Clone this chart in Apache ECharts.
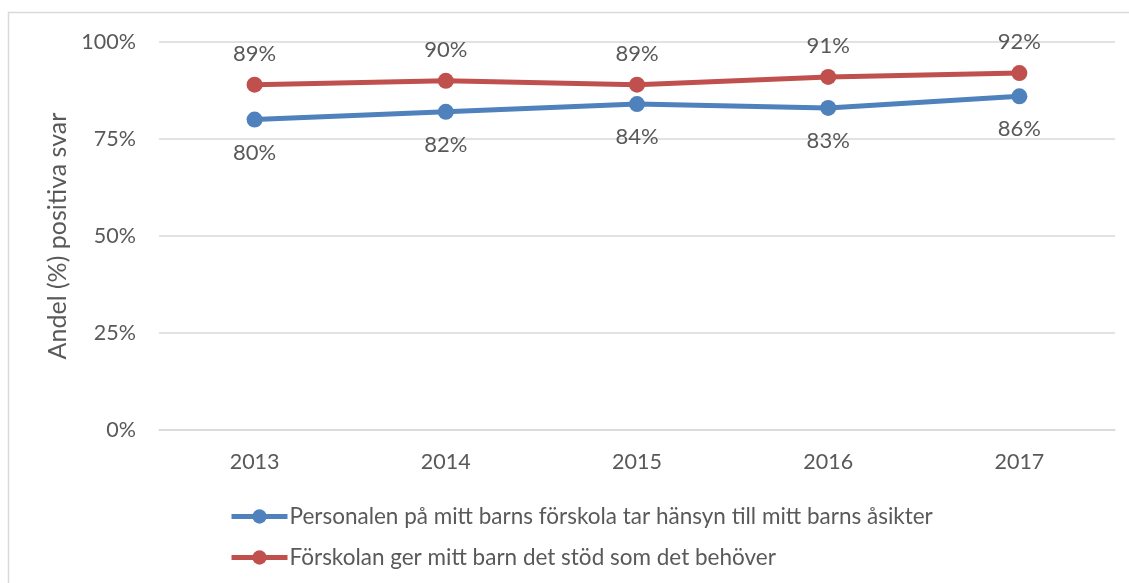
<!DOCTYPE html>
<html><head><meta charset="utf-8">
<script src="https://cdn.jsdelivr.net/npm/echarts@6/dist/echarts.min.js"></script>
<style>html,body{margin:0;padding:0;background:#fff}#c{width:1129px;height:583px}</style>
</head><body><div id="c"></div>
<script>
const categories = ['2013','2014','2015','2016','2017'];
const seriesNames = ['Personalen på mitt barns förskola tar hänsyn till mitt barns åsikter','Förskolan ger mitt barn det stöd som det behöver'];
const bluePct = [80, 82, 84, 83, 86];
const redPct = [89, 90, 89, 91, 92];
const yTicks = [0, 25, 50, 75, 100];
const yTitle = 'Andel (%) positiva svar';

const font = "Lato, 'Open Sans', sans-serif";
const textColor = '#595959';
const chart = echarts.init(document.getElementById('c'), null, {renderer:'canvas'});
chart.setOption({
  animation:false,
  backgroundColor:'#fff',
  graphic:[{type:'rect', shape:{x:8.5,y:12.5,width:1200,height:700}, style:{fill:'none',stroke:'#d9d9d9',lineWidth:1.5}, silent:true}],
  grid:{left:159, right:14, top:42, bottom:153},
  xAxis:{type:'category', data:categories, boundaryGap:true,
    axisLine:{lineStyle:{color:'#d9d9d9',width:1.5}}, axisTick:{show:false},
    axisLabel:{color:textColor, fontFamily:font, fontSize:21.5, margin:21}},
  yAxis:{type:'value', min:yTicks[0], max:yTicks[yTicks.length-1], interval:25,
    name:yTitle, nameLocation:'middle', nameGap:86, nameRotate:90,
    nameTextStyle:{color:textColor, fontFamily:font, fontSize:25},
    axisLine:{show:false}, axisTick:{show:false},
    splitLine:{lineStyle:{color:'#d9d9d9',width:1.5}},
    axisLabel:{color:textColor, fontFamily:font, fontSize:21.5, margin:23, formatter:v=>v+'%'}},
  legend:{orient:'vertical', left:224, top:500, itemGap:18, itemWidth:56, itemHeight:18,
    lineStyle:{width:5},
    textStyle:{color:textColor, fontFamily:font, fontSize:22.5, padding:[0,0,0,-3]},
    data:seriesNames},
  series:[
    {name:seriesNames[0], type:'line', data:bluePct, symbol:'circle', symbolSize:16,
     itemStyle:{color:'#4F81BD'}, lineStyle:{color:'#4F81BD',width:5},
     label:{show:true, position:'bottom', distance:14, formatter:p=>p.value+'%', color:textColor, fontFamily:font, fontSize:22}},
    {name:seriesNames[1], type:'line', data:redPct, symbol:'circle', symbolSize:16,
     itemStyle:{color:'#C0504D'}, lineStyle:{color:'#C0504D',width:5},
     label:{show:true, position:'top', distance:12, formatter:p=>p.value+'%', color:textColor, fontFamily:font, fontSize:22}}
  ]
});
</script></body></html>
